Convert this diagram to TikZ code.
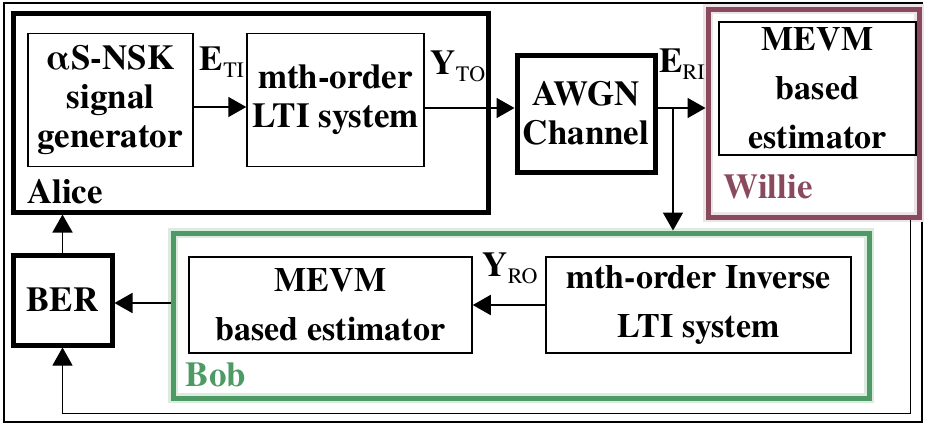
\documentclass[tikz,border=0pt]{standalone}
\usepackage{fontspec}
\newfontfamily\diagfont{texgyretermes}[Extension=.otf,UprightFont=*-bold,BoldFont=*-bold]
\newfontfamily\idxfont{texgyretermes}[Extension=.otf,UprightFont=*-regular]
\usetikzlibrary{arrows.meta,positioning}
\definecolor{williec}{HTML}{8A4A5E}
\definecolor{bobc}{HTML}{4E9A64}
\newcommand{\idx}[1]{\raisebox{-0.45ex}{\idxfont\fontsize{22}{22}\selectfont #1}}

\begin{document}
\begin{tikzpicture}[x=1pt,y=-1pt,
        every node/.style={font=\diagfont\fontsize{35}{39}\selectfont},
        blk/.style={draw,line width=1.5pt,align=center,inner sep=0pt},
        heavy/.style={draw,line width=5pt,align=center,inner sep=0pt},
        wide/.style={font=\diagfont\fontsize{34}{49}\selectfont},
        link/.style={line width=1.8pt,-{Triangle[length=18pt,width=20pt]}}]
    \useasboundingbox (0,0) rectangle (926,426);
    \draw[line width=1.5pt] (4,3) rectangle (922,422);
    % Alice
    \node[heavy,minimum width=475,minimum height=199] (alice) at (250.5,112.5) {};
    \node[blk,minimum width=165,minimum height=133] (gen) at (110.5,100) {αS-NSK\\signal\\generator};
    \node[blk,minimum width=177,minimum height=133] (lti) at (335.5,100) {mth-order\\LTI system};
    \node (alicelbl) at (65,192) {Alice};
    % channel
    \node[heavy,minimum width=138,minimum height=117] (awgn) at (586,113.5) {AWGN\\Channel};
    % Willie
    \node[draw=williec,line width=5pt,preaction={draw=williec!15,line width=10pt},
        minimum width=211,minimum height=208] (willie) at (813.5,113) {};
    \node[blk,wide,minimum width=197,minimum height=133] (west) at (817.5,88.5) {MEVM\\based\\estimator};
    \node[text=williec] (willielbl) at (768,187) {Willie};
    % Bob
    \node[draw=bobc,line width=5pt,preaction={draw=bobc!20,line width=10pt},
        minimum width=696,minimum height=165] (bob) at (521,315.5) {};
    \node[blk,wide,minimum width=283,minimum height=96] (best) at (330.5,305) {MEVM\\based estimator};
    \node[blk,wide,minimum width=305,minimum height=96] (inv) at (698.5,305) {mth-order Inverse\\LTI system};
    \node[text=bobc] (boblbl) at (216,375) {Bob};
    \node[heavy,minimum width=99,minimum height=90] (ber) at (62.5,300) {BER};
    % signal labels
    \node (eti) at (222,62) {E\idx{TI}};
    \node (yto) at (458,66) {Y\idx{TO}};
    \node (eri) at (682,64) {E\idx{RI}};
    \node (yro) at (510,268) {Y\idx{RO}};
    % connectors
    \coordinate (tap) at (673,108);
    \coordinate (ret) at (62.5,413);
    \draw[link] (gen.east |- 0,107) -- (lti.west |- 0,107);
    \draw[link] (lti.east |- 0,108) -- (awgn.west |- 0,108);
    \draw[link] (awgn.east |- tap) -- (willie.west |- tap);
    \draw[link] (tap) -- (tap |- bob.north);
    \draw[link] (inv.west) -- (best.east);
    \draw[link] (bob.west |- 0,303) -- (ber.east |- 0,303);
    \draw[link] (ber.north) -- (ber.north |- alice.south);
    \draw[link,line width=1pt] ([xshift=-11pt]willie.south east) |- (ret) -- (ber.south);
\end{tikzpicture}
\end{document}
